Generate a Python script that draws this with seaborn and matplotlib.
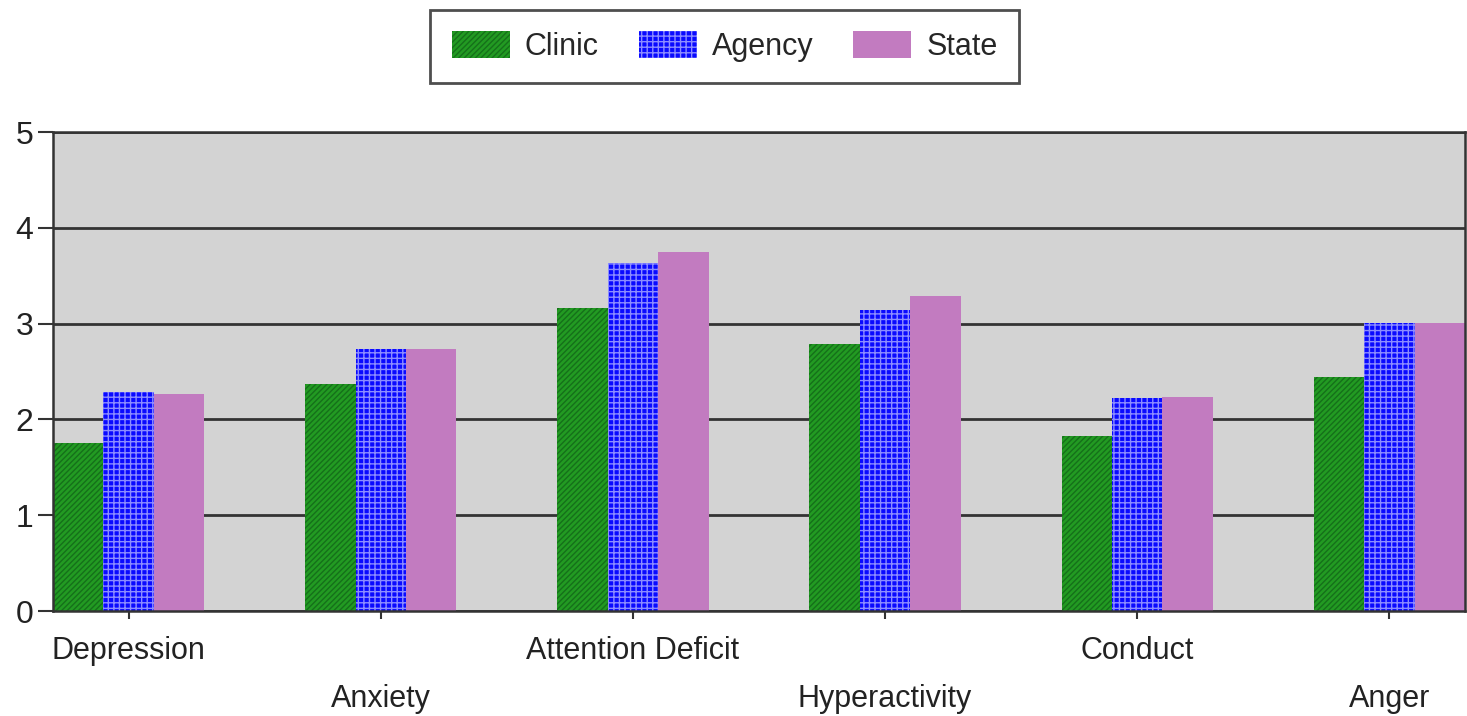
import matplotlib
matplotlib.use("Agg")
import matplotlib.pyplot as plt
import seaborn as sns
import pandas as pd
import numpy as np
from matplotlib.patches import Patch

categories = ["Depression", "Anxiety", "Attention Deficit", "Hyperactivity", "Conduct", "Anger"]
groups = ["Clinic", "Agency", "State"]
clinic = [1.75, 2.37, 3.16, 2.79, 1.83, 2.44]
agency = [2.29, 2.73, 3.63, 3.14, 2.22, 3.01]
state = [2.27, 2.73, 3.75, 3.29, 2.23, 3.01]
y_ticks = [0, 1, 2, 3, 4, 5]

rows = []
for g, vals in zip(groups, [clinic, agency, state]):
    for c, v in zip(categories, vals):
        rows.append({"category": c, "group": g, "value": v})
df = pd.DataFrame(rows)

sns.set_theme(style="white")
plt.rcParams["font.family"] = ["Liberation Sans", "DejaVu Sans"]
plt.rcParams["hatch.linewidth"] = 1.0

face = {"Clinic": "#229a22", "Agency": "#0a0aff", "State": "#c27bc0"}
hatch_col = {"Clinic": "#15701a", "Agency": "#8c8cff", "State": "#c27bc0"}
hatches = {"Clinic": "//////", "Agency": "+++", "State": ""}

fig = plt.figure(figsize=(14.67, 7.16), dpi=100)
ax = fig.add_axes([0.0361, 0.1466, 0.9625, 0.669])

sns.barplot(data=df, x="category", y="value", hue="group", order=categories,
            hue_order=groups, palette=face, saturation=1, width=0.6,
            dodge=True, ax=ax, legend=False)

for cont, g in zip(ax.containers, groups):
    for p in cont:
        p.set_facecolor(face[g])
        p.set_edgecolor(hatch_col[g])
        p.set_hatch(hatches[g])
        p.set_linewidth(0)

ax.set_facecolor("#d3d3d3")
ax.set_xlim(-0.3, 5.3)
ax.set_ylim(0, 5)
ax.set_yticks(y_ticks)
ax.set_yticklabels([str(t) for t in y_ticks], fontsize=23, color="#222222")
ax.yaxis.grid(True, color="#333333", linewidth=2)
ax.xaxis.grid(False)
ax.set_axisbelow(True)
ax.set_xlabel("")
ax.set_ylabel("")

ax.set_xticks(range(len(categories)))
labels = [c if i % 2 == 0 else "\n" + c for i, c in enumerate(categories)]
ax.set_xticklabels(labels, fontsize=22, color="#222222")
for i, lab in enumerate(ax.get_xticklabels()):
    if i % 2 == 1:
        lab.set_linespacing(1.8)

ax.tick_params(axis="y", direction="out", length=11, width=1.5, color="#333333", pad=3, left=True)
ax.tick_params(axis="x", direction="out", length=6, width=1.5, color="#333333", pad=12, bottom=True)

for s in ["left", "bottom", "top", "right"]:
    ax.spines[s].set_visible(True)
    ax.spines[s].set_color("#333333")
    ax.spines[s].set_linewidth(1.8)

handles = [Patch(facecolor=face[g], edgecolor=hatch_col[g], hatch=hatches[g], linewidth=0) for g in groups]
leg = fig.legend(handles, groups, loc="upper center", bbox_to_anchor=(0.494, 0.986), ncol=3,
                 fontsize=22, frameon=True, fancybox=False, handlelength=1.9, handleheight=0.95,
                 columnspacing=1.3, handletextpad=0.5, borderpad=0.7, borderaxespad=0)
leg.get_frame().set_edgecolor("#222222")
leg.get_frame().set_linewidth(2)

fig.savefig("out.png", dpi=100)
